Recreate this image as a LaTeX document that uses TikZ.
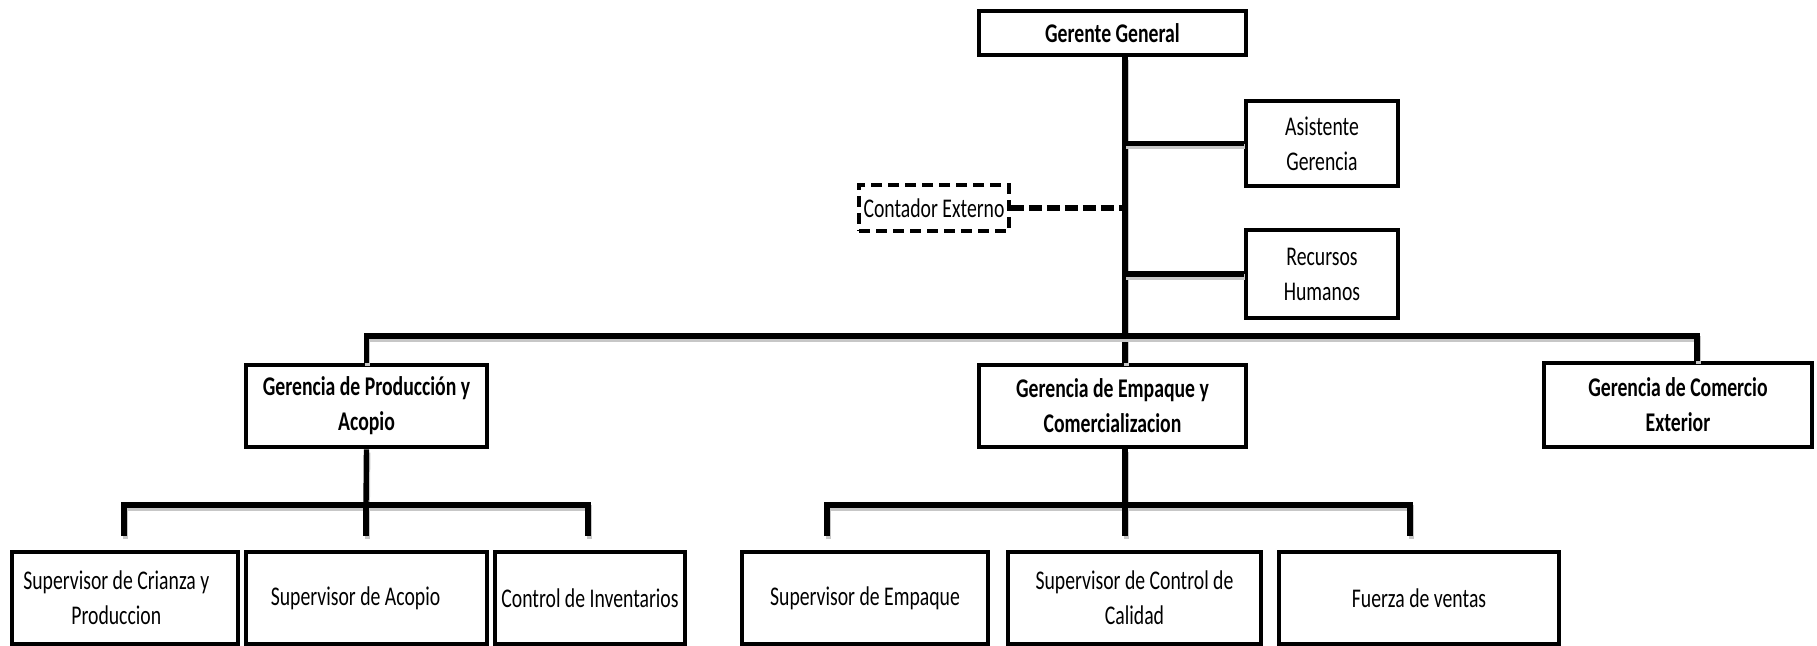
\documentclass[tikz,border=0pt]{standalone}
\usepackage{fontspec}
\setmainfont{Carlito}[FakeStretch=0.73]
\usetikzlibrary{calc}
\begin{document}
\begin{tikzpicture}[x=0.5pt,y=-0.5pt,
  box/.style={draw=black, line width=2.3pt, fill=white, align=center, inner sep=0pt,
    font=\fontsize{13.5}{17.5}\selectfont},
  head/.style={box, font=\fontsize{13.5}{17.5}\selectfont\bfseries},
  extbox/.style={box, line width=1.8pt, dash pattern=on 5.5pt off 3pt},
  link/.style={line width=2.7pt, line join=miter,
    preaction={draw=black!22, line width=2.7pt, transform canvas={shift={(0.6pt,-1.6pt)}}}},
  dashlink/.style={line width=2.6pt, dash pattern=on 6.5pt off 2.5pt},
]
\useasboundingbox (0,0) rectangle (1817,646);

% x positions of vertical lines that are not on a box centre
\coordinate (tx) at (1125,0);
\coordinate (gx) at (1697,0);
% horizontal bars
\coordinate (mbar) at (1125,336);
\coordinate (lbar) at (366,505);
\coordinate (rbar) at (1125,505);
% lower ends of the short drops
\coordinate (d1) at (124,536);
\coordinate (d2) at (366,536);
\coordinate (d3) at (588,536);
\coordinate (d4) at (827,536);
\coordinate (d5) at (1125,536);
\coordinate (d6) at (1410,536);

% top level
\node[head, minimum width=133.5pt, minimum height=22pt] (gg) at (1112.5,33) {Gerente General};
\node[box, minimum width=76pt, minimum height=42.5pt] (ag) at (1322,143.5) {Asistente\\Gerencia};
\node[box, minimum width=76pt, minimum height=44pt] (rh) at (1322,274) {Recursos\\Humanos};
\node[extbox, minimum width=75pt, minimum height=23pt] (ce) at (934,208) {Contador Externo};

% managers
\node[head, minimum width=120.5pt, minimum height=41pt] (gp) at (366.5,406) {Gerencia de Producción y\\Acopio};
\node[head, minimum width=133.5pt, minimum height=41pt] (ge) at (1112.5,406) {Gerencia de Empaque y\\Comercializacion};
\node[head, minimum width=134pt, minimum height=42pt] (gc) at (1678,405) {Gerencia de Comercio\\Exterior};

% staff (the first two texts sit a little left of centre)
\node[box, minimum width=113pt, minimum height=46pt] (b1) at (125,598)
  {Supervisor de Crianza y\hspace*{8.7pt}\\Produccion\hspace*{8.7pt}};
\node[box, minimum width=120.5pt, minimum height=46pt] (b2) at (366.5,598)
  {Supervisor de Acopio\hspace*{11pt}};
\node[box, minimum width=95pt, minimum height=46pt] (b3) at (590,598) {Control de Inventarios};
\node[box, minimum width=123pt, minimum height=46pt] (b4) at (865,598) {Supervisor de Empaque};
\node[box, minimum width=126.5pt, minimum height=46pt] (b5) at (1134.5,598) {Supervisor de Control de\\Calidad};
\node[box, minimum width=140pt, minimum height=46pt] (b6) at (1419,598) {Fuerza de ventas};

% connectors
\draw[link] (gg.south -| tx) -- (ge.north -| tx);
\draw[link] (ag.west) -- (ag.west -| tx);
\draw[link] (rh.west) -- (rh.west -| tx);
\draw[dashlink] (ce.east) -- (ce.east -| tx);
\draw[link] (gp.north) |- (mbar) -| (gc.north -| gx);

\draw[link] (gp.south) -- (lbar);
\draw[link] (d1) |- (lbar) -| (d3);
\draw[link] (lbar) -- (d2);

\draw[link] (ge.south -| tx) -- (rbar);
\draw[link] (d4) |- (rbar) -| (d6);
\draw[link] (rbar) -- (d5);
\end{tikzpicture}
\end{document}
